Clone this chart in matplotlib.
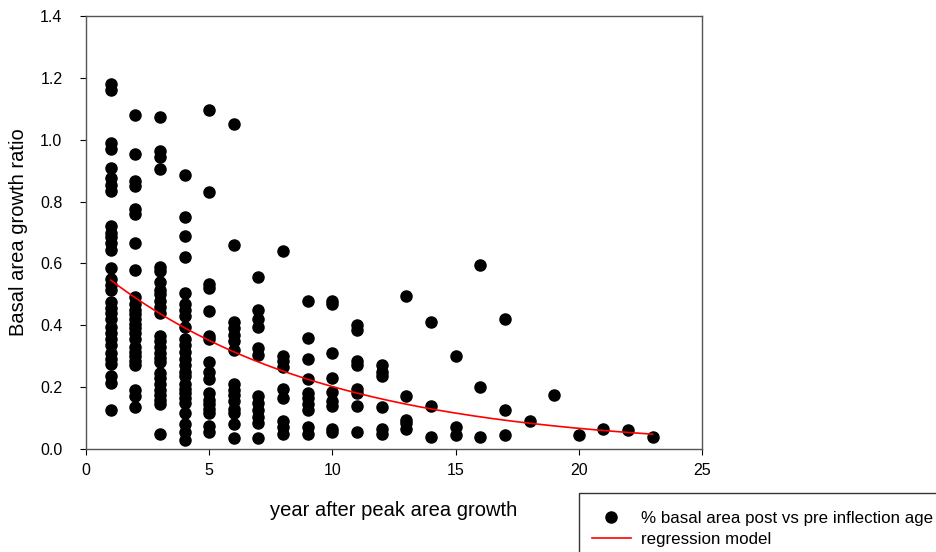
import numpy as np
import matplotlib.pyplot as plt
from matplotlib.patches import Rectangle

plt.rcParams["font.family"] = ["Liberation Sans", "DejaVu Sans"]

# basal area growth ratio by year after peak, one list per year
yr1 = [1.18, 1.16, 0.99, 0.97, 0.91, 0.875, 0.855, 0.835, 0.72, 0.70, 0.685, 0.665,
       0.645, 0.585, 0.55, 0.53, 0.515, 0.475, 0.455, 0.44, 0.42, 0.395, 0.375,
       0.355, 0.335, 0.31, 0.29, 0.275, 0.235, 0.215, 0.125]
yr2 = [1.08, 0.955, 0.865, 0.85, 0.775, 0.76, 0.665, 0.58, 0.49, 0.47, 0.45, 0.435,
       0.42, 0.405, 0.39, 0.375, 0.355, 0.33, 0.315, 0.30, 0.285, 0.27, 0.19, 0.17,
       0.135]
yr3 = [1.075, 0.965, 0.945, 0.905, 0.59, 0.575, 0.54, 0.515, 0.50, 0.48, 0.46, 0.44,
       0.365, 0.35, 0.33, 0.31, 0.295, 0.28, 0.245, 0.23, 0.21, 0.19, 0.175, 0.16,
       0.145, 0.05]
yr4 = [0.885, 0.75, 0.69, 0.62, 0.505, 0.47, 0.45, 0.43, 0.395, 0.355, 0.335, 0.315,
       0.29, 0.27, 0.25, 0.235, 0.21, 0.195, 0.18, 0.165, 0.15, 0.115, 0.08, 0.055,
       0.03]
yr5 = [1.095, 0.83, 0.535, 0.52, 0.445, 0.365, 0.355, 0.28, 0.25, 0.225, 0.18, 0.16,
       0.145, 0.13, 0.115, 0.075, 0.055]
yr6 = [1.05, 0.66, 0.41, 0.39, 0.37, 0.35, 0.32, 0.21, 0.19, 0.175, 0.155, 0.13,
       0.115, 0.08, 0.035]
yr7 = [0.555, 0.45, 0.42, 0.395, 0.325, 0.305, 0.17, 0.15, 0.125, 0.105, 0.085, 0.035]
yr8 = [0.64, 0.30, 0.285, 0.265, 0.195, 0.165, 0.09, 0.07, 0.05]
yr9 = [0.48, 0.36, 0.29, 0.225, 0.18, 0.165, 0.145, 0.125, 0.07, 0.05]
yr10 = [0.48, 0.47, 0.31, 0.23, 0.185, 0.155, 0.14, 0.065, 0.055]
yr11 = [0.40, 0.385, 0.285, 0.27, 0.195, 0.18, 0.14, 0.055]
yr12 = [0.27, 0.25, 0.235, 0.135, 0.065, 0.05]

# sparse tail, years 13-23
late_years = [13, 13, 13, 13, 13, 14, 14, 14, 15, 15, 15, 16, 16, 16, 17, 17, 17,
              18, 19, 20, 21, 22, 23]
late_ratio = [0.495, 0.17, 0.095, 0.085, 0.065, 0.41, 0.14, 0.04, 0.30, 0.07, 0.045,
              0.595, 0.20, 0.04, 0.42, 0.125, 0.045, 0.09, 0.175, 0.045, 0.065, 0.06,
              0.04]

# exponential regression y = a * exp(-b * x)
reg_a = 0.61
reg_b = 0.1106
reg_start, reg_end = 1, 23

early = [yr1, yr2, yr3, yr4, yr5, yr6, yr7, yr8, yr9, yr10, yr11, yr12]
xs = []
ys = []
for i, vals in enumerate(early):
    xs += [i + 1] * len(vals)
    ys += vals
xs += late_years
ys += late_ratio

fig = plt.figure(figsize=(9.37, 5.52), dpi=100)
ax = fig.add_axes([0.0918, 0.1866, 0.6574, 0.7844])

pts, = ax.plot(xs, ys, "o", color="black", markersize=8, linestyle="none",
               label="% basal area post vs pre inflection age")
xr = np.linspace(reg_start, reg_end, 200)
line, = ax.plot(xr, reg_a * np.exp(-reg_b * xr), color="#ff0000", linewidth=1.2,
                label="regression model")

ax.set_xlim(0, 25)
ax.set_ylim(0, 1.4)
ax.set_xticks([0, 5, 10, 15, 20, 25])
ax.set_yticks(np.arange(0, 1.41, 0.2))
ax.set_yticklabels(["%.1f" % v for v in np.arange(0, 1.41, 0.2)])
ax.tick_params(direction="out", length=4, width=0.8, labelsize=11.5, colors="black")
ax.tick_params(axis="y", pad=13)
ax.tick_params(axis="x", pad=6)
for s in ax.spines.values():
    s.set_color("#555555")
    s.set_linewidth(1.0)

ax.set_xlabel("year after peak area growth", fontsize=14.5, labelpad=17)
ax.set_ylabel("Basal area growth ratio", fontsize=14.5, labelpad=9)

# legend entries without frame, box drawn separately so it runs off the page
leg = fig.legend(handles=[pts, line], loc="upper left",
                 bbox_to_anchor=(592 / 937, 1 - 511 / 552), fontsize=12.2,
                 frameon=False, handlelength=2.3, borderpad=0, labelspacing=0.34,
                 handletextpad=0.6, borderaxespad=0)
box = Rectangle((579 / 937, -0.1), 0.5, 0.1 + (552 - 493) / 552,
                transform=fig.transFigure, fill=False, edgecolor="#333333",
                linewidth=1.0)
fig.patches.append(box)

fig.savefig("out.png", dpi=100)
